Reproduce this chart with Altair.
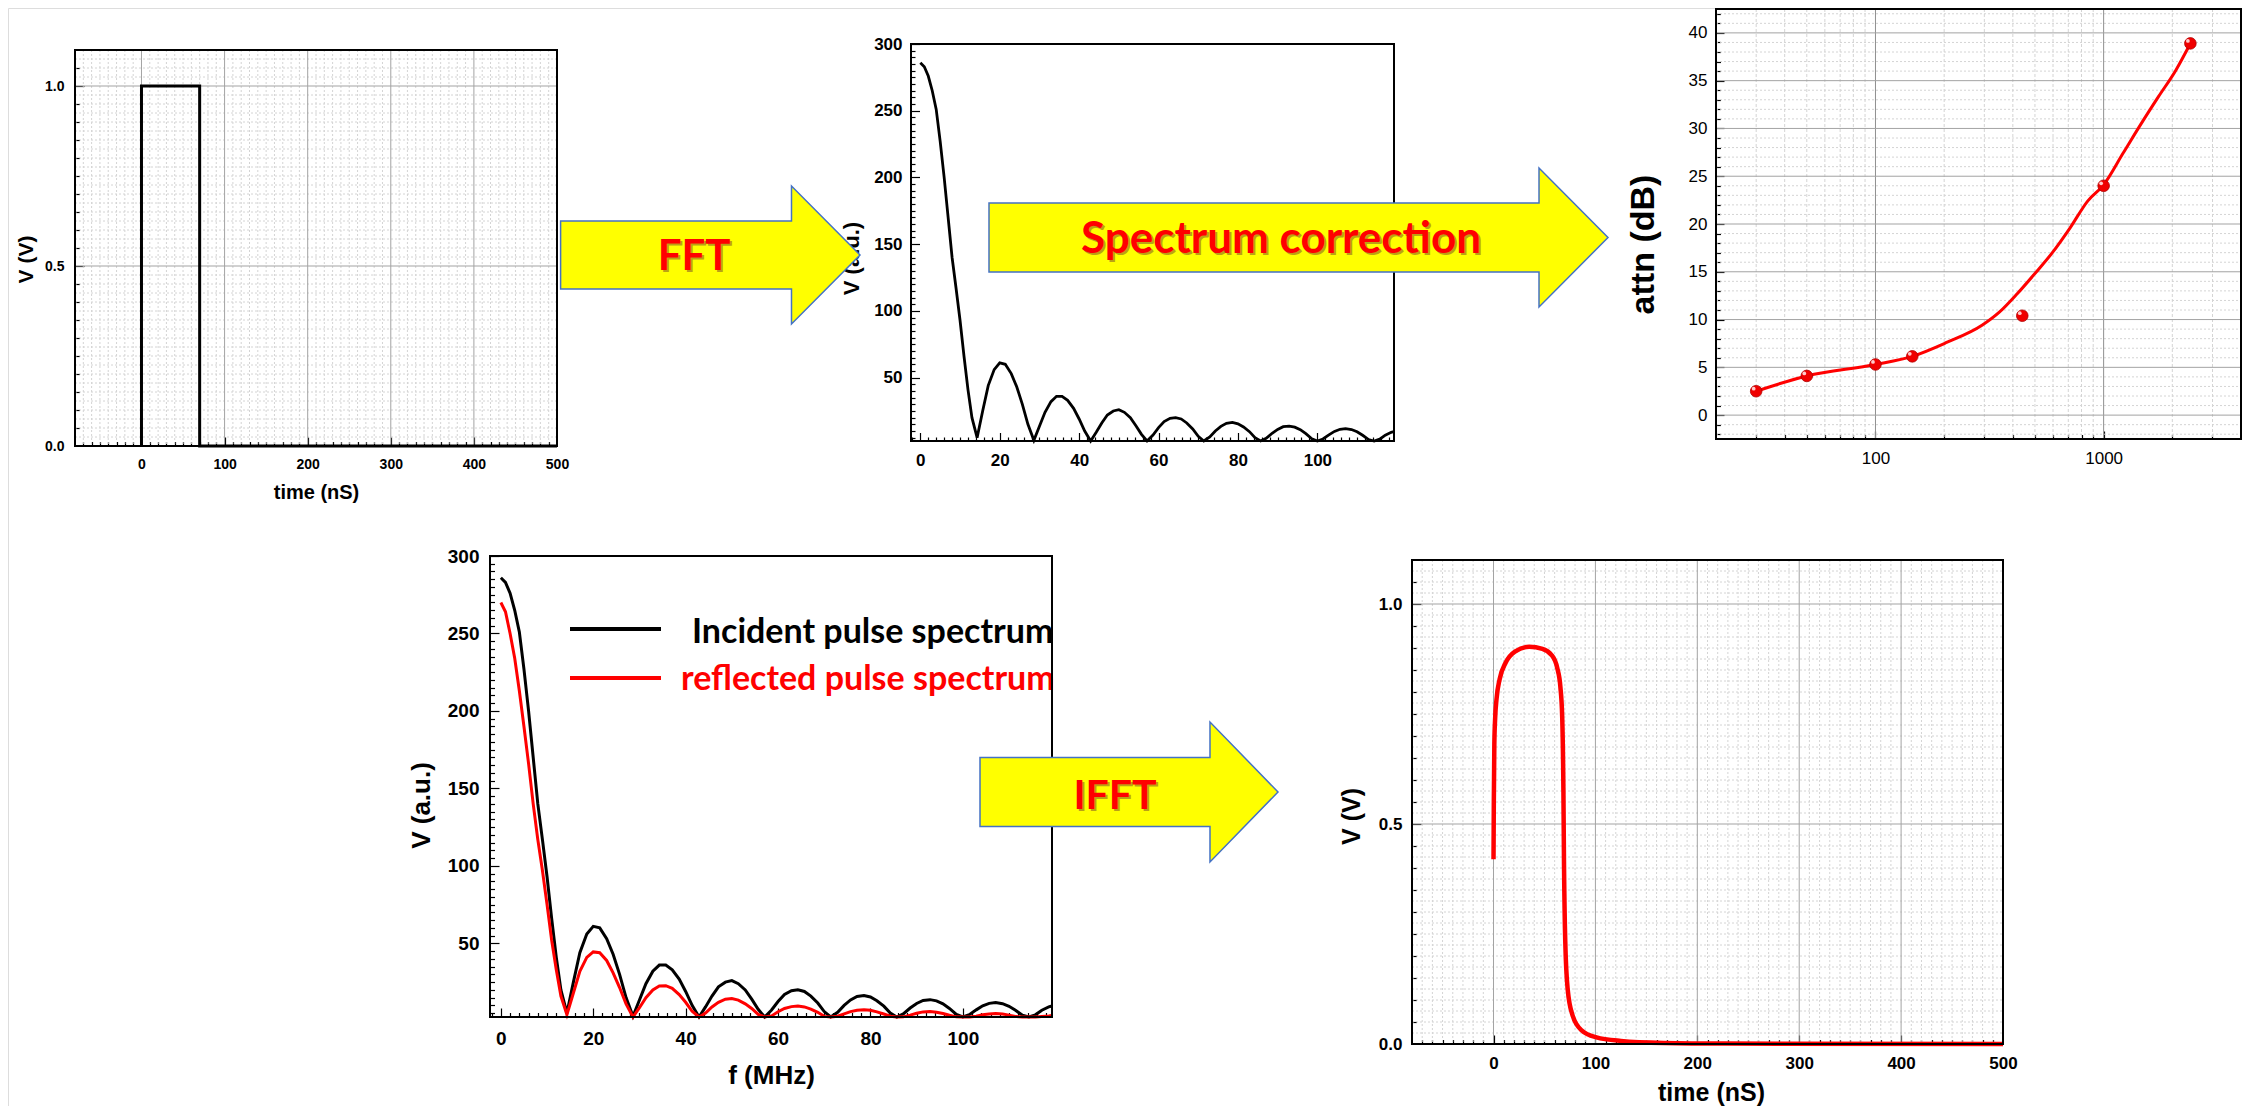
import altair as alt
import pandas as pd

# ---------------- data ----------------
# panel 1: incident rectangular pulse
pulse_time_ns = [0, 0, 70, 70, 500]
pulse_volt = [0.0, 1.0, 1.0, 0.0, 0.0]

# panels 2 and 4: spectra
spec_freq_mhz = [
    0, 1, 2, 3, 4, 5, 6, 7, 8, 9, 10, 11, 12, 13, 14.3,
    15.7, 17.1, 18.6, 20.0, 21.4, 22.9, 24.3, 25.7, 27.1, 28.6,
    30.0, 31.4, 32.9, 34.3, 35.7, 37.1, 38.6, 40.0, 41.4, 42.9,
    44.3, 45.7, 47.1, 48.6, 50.0, 51.4, 52.9, 54.3, 55.7, 57.1,
    58.6, 60.0, 61.4, 62.9, 64.3, 65.7, 67.1, 68.6, 70.0, 71.4,
    72.9, 74.3, 75.7, 77.1, 78.6, 80.0, 81.4, 82.9, 84.3, 85.7,
    87.1, 88.6, 90.0, 91.4, 92.9, 94.3, 95.7, 97.1, 98.6, 100.0,
    101.4, 102.9, 104.3, 105.7, 107.1, 108.6, 110.0, 111.4, 112.9, 114.3,
    115.7, 117.1, 118.6, 119.3,
]
incident_spec = [
    286, 283, 276, 265, 251, 227, 200, 170, 140, 117, 93, 66, 41, 20, 5,
    25, 44, 56, 61, 60, 53, 43, 30, 15, 3,
    13.5, 24, 32, 36, 36, 33, 27, 19, 10, 2.5,
    9, 16, 22, 25, 26, 24, 20, 14, 7.5, 2.5,
    7, 12.5, 17, 19.5, 20, 19, 16, 11.5, 6, 2.5,
    5.5, 10, 13.5, 15.8, 16.4, 15.4, 13, 9.5, 5, 2.5,
    4.5, 8.3, 11.2, 13.2, 13.7, 12.9, 11, 8, 4.2, 2.5,
    4, 7.1, 9.7, 11.3, 11.8, 11.1, 9.4, 6.8, 3.6, 2.5,
    3.9, 6.9, 9.0, 9.6,
]
reflected_spec = [
    270, 264, 250, 234, 213, 190, 166, 140, 117, 97, 75, 52, 33, 16, 4,
    18, 32, 41, 44.5, 44, 39, 31, 21.5, 11, 2.5,
    8.5, 15, 20, 22.5, 22.7, 21, 17, 12, 6.2, 2.5,
    5, 9, 12, 14, 14.4, 13.4, 11, 8, 4.2, 2.5,
    3.2, 5.9, 8, 9.2, 9.6, 9, 7.6, 5.5, 2.9, 2.5,
    3.0, 4.5, 6.0, 6.9, 7.2, 6.8, 5.8, 4.4, 3.0, 2.5,
    2.6, 3.7, 4.9, 5.8, 6.0, 5.6, 4.8, 3.6, 2.6, 2.5,
    2.5, 3.0, 3.9, 4.5, 4.7, 4.4, 3.7, 2.9, 2.5, 2.5,
    2.5, 2.8, 3.2, 3.5,
]

# panel 3: attenuation
attn_freq_mhz = [30, 50, 100, 145, 440, 1000, 2400]
attn_db = [2.5, 4.1, 5.3, 6.15, 10.4, 24.0, 38.9]
attn_fit_freq = [30, 50, 100, 145, 205, 293, 350, 418, 499, 596, 713, 851,
                 1000, 1216, 1452, 1736, 2073, 2400]
attn_fit_db = [2.5, 4.1, 5.3, 6.15, 7.6, 9.4, 10.8, 12.7, 14.8, 17.0, 19.6,
               22.4, 24.1, 27.4, 30.4, 33.3, 36.1, 38.9]

# panel 5: reconstructed (reflected) pulse
rec_time_ns = [0, 0.3, 0.8, 1.6, 3, 6, 12, 21, 35, 48, 57, 62.6, 65.6, 67.4,
               68.6, 69.2, 70.4, 72.8, 77.6, 86.5, 101, 125, 167, 227, 500]
rec_volt = [0.42, 0.55, 0.68, 0.74, 0.785, 0.829, 0.867, 0.892, 0.903, 0.898,
            0.884, 0.854, 0.812, 0.744, 0.574, 0.404, 0.234, 0.124, 0.065,
            0.031, 0.015, 0.007, 0.0025, 0.001, 0.0]

# tick labels
time_ticks = [0, 100, 200, 300, 400, 500]
volt_ticks = [0.0, 0.5, 1.0]
freq_ticks = [0, 20, 40, 60, 80, 100]
spec_ticks = [50, 100, 150, 200, 250, 300]
attn_x_ticks = [100, 1000]
attn_y_ticks = [0, 5, 10, 15, 20, 25, 30, 35, 40]

arrow_labels = ["FFT", "Spectrum correction", "IFFT"]
legend_labels = ["Incident pulse spectrum", "reflected pulse spectrum"]
axis_titles = ["time (nS)", "V (V)", "V (a.u.)", "attn (dB)", "f (MHz)"]

# minor tick / grid positions
time_minor = [t for t in range(-70, 500, 10) if t % 100]
volt_minor = [round(0.05 * i, 3) for i in range(1, 22) if i % 10]
volt_grid_minor = [round(0.025 * i, 3) for i in range(1, 44) if i % 20]
freq_minor = [f for f in range(-2, 120, 2) if f % 20]
spec_minor = [v for v in range(5, 300, 5) if v % 50]
attn_x_minor = [30, 40, 50, 60, 70, 80, 90, 200, 300, 400, 500, 600, 700,
                800, 900, 2000, 3000]
attn_y_minor = [v for v in range(-2, 43) if v % 5]

# ---------------- layout (canvas pixels) ----------------
WT, HT = 2234, 1098
P1 = dict(l=67, r=549, t=42, b=438)
P2 = dict(l=903, r=1386, t=36, b=433)
P3 = dict(l=1708, r=2233, t=1, b=431)
P4 = dict(l=482, r=1044, t=548, b=1009)
P5 = dict(l=1404, r=1995, t=552, b=1036)

FONT = "Liberation Sans"
MAJOR = "#a3a3a3"
MINOR = "#d4d4d4"
one = pd.DataFrame({"k": [0]})


def xscale(dom, p, typ="linear"):
    if typ == "log":
        return alt.Scale(type="log", domain=dom, range=[p["l"], p["r"]], nice=False)
    return alt.Scale(domain=dom, range=[p["l"], p["r"]], nice=False, zero=False)


def yscale(dom, p):
    return alt.Scale(domain=dom, range=[p["b"], p["t"]], nice=False, zero=False)


def tick_axes(p, xvals, yvals, L):
    xa = alt.Axis(orient="bottom", values=xvals, grid=False, labels=False,
                  ticks=True, tickSize=L, tickColor="black", tickWidth=1.2,
                  offset=-(HT - p["b"]) - L, domain=False, title=None)
    ya = alt.Axis(orient="left", values=yvals, grid=False, labels=False,
                  ticks=True, tickSize=L, tickColor="black", tickWidth=1.2,
                  offset=-p["l"] - L, domain=False, title=None)
    return xa, ya


def label_axis(p, orient, values, fmt, size, pad, title, tsize, tx, ty,
               weight="bold"):
    off = -(HT - p["b"]) if orient == "bottom" else -p["l"]
    return alt.Axis(orient=orient, values=values, format=fmt, grid=False,
                    ticks=False, domain=False, offset=off, labelFont=FONT,
                    labelFontSize=size, labelFontWeight=weight,
                    labelColor="black", labelPadding=pad, labelFlush=False,
                    labelOverlap=False, title=title, titleFont=FONT,
                    titleFontSize=tsize, titleFontWeight="bold",
                    titleColor="black", titleX=tx, titleY=ty,
                    titleAngle=(270 if orient == "left" else 0),
                    titleAlign="center", titleBaseline="middle")


def xy(chart, xf, yf, xs, ys, xa=None, ya=None):
    return chart.encode(
        x=alt.X(xf, type="quantitative", scale=xs, axis=xa),
        y=alt.Y(yf, type="quantitative", scale=ys, axis=ya),
    )


def ghost(df, xf, yf, xs, ys, xa, ya):
    return xy(alt.Chart(df).mark_point(opacity=0, size=1), xf, yf, xs, ys, xa, ya)


def vgrid(vals, xs, p, color, dash=None):
    kw = dict(color=color, strokeWidth=1)
    if dash:
        kw["strokeDash"] = dash
    return alt.Chart(pd.DataFrame({"g": vals})).mark_rule(**kw).encode(
        x=alt.X("g:Q", scale=xs, axis=None),
        y=alt.value(p["t"]), y2=alt.value(p["b"]))


def hgrid(vals, ys, p, color, dash=None):
    kw = dict(color=color, strokeWidth=1)
    if dash:
        kw["strokeDash"] = dash
    return alt.Chart(pd.DataFrame({"g": vals})).mark_rule(**kw).encode(
        y=alt.Y("g:Q", scale=ys, axis=None),
        x=alt.value(p["l"]), x2=alt.value(p["r"]))


def frame(p):
    return alt.Chart(one).mark_rect(fillOpacity=0, stroke="black",
                                    strokeWidth=2).encode(
        x=alt.value(p["l"]), x2=alt.value(p["r"]),
        y=alt.value(p["t"]), y2=alt.value(p["b"]))


def arrow(x0, xh, xt, yc, bh, hh):
    cx = (x0 + xt) / 2.0
    s = (xt - x0) / 2.0
    pts = [(x0, yc - bh), (xh, yc - bh), (xh, yc - hh), (xt, yc),
           (xh, yc + hh), (xh, yc + bh), (x0, yc + bh)]
    path = "M" + "L".join(
        "%.4f,%.4f" % ((px - cx) / s, (py - yc) / s) for px, py in pts) + "Z"
    return alt.Chart(one).mark_point(
        shape=path, size=(2 * s) ** 2, filled=True, fill="#FFFF00",
        fillOpacity=1, opacity=1, stroke="#4472C4", strokeWidth=1.5,
    ).encode(x=alt.value(cx), y=alt.value(yc))


def red_label(text, x, y, size=40):
    common = dict(text=text, font="Lato", fontWeight="bold", fontSize=size,
                  align="center", baseline="middle")
    shadow = alt.Chart(one).mark_text(color="#6b3030", opacity=0.45, dx=2,
                                      dy=2, **common).encode(
        x=alt.value(x), y=alt.value(y))
    main = alt.Chart(one).mark_text(color="#FF0000", **common).encode(
        x=alt.value(x), y=alt.value(y))
    return [shadow, main]


# ---------------- data frames and scales ----------------
df1 = pd.DataFrame({"t": pulse_time_ns, "v": pulse_volt,
                    "i": list(range(len(pulse_time_ns)))})
dfs = pd.DataFrame({"f": spec_freq_mhz, "inc": incident_spec,
                    "refl": reflected_spec})
dff = pd.DataFrame({"f": attn_fit_freq, "a": attn_fit_db})
dfp = pd.DataFrame({"f": attn_freq_mhz, "a": attn_db})
df5 = pd.DataFrame({"t": rec_time_ns, "v": rec_volt})

x1, y1 = xscale([-80, 500], P1), yscale([0, 1.1], P1)
x2, y2 = xscale([-2.35, 119.3], P2), yscale([2.5, 300], P2)
x3, y3 = xscale([20, 4000], P3, "log"), yscale([-2.5, 42.5], P3)
x4, y4 = xscale([-2.35, 119.3], P4), yscale([2.5, 300], P4)
x5, y5 = xscale([-80, 500], P5), yscale([0, 1.1], P5)

layers = []

# grids
layers += [
    vgrid(time_minor, x1, P1, MINOR, [2, 2]),
    hgrid(volt_grid_minor, y1, P1, MINOR, [2, 2]),
    vgrid(time_ticks[:-1], x1, P1, MAJOR),
    hgrid(volt_ticks[1:], y1, P1, MAJOR),
    vgrid(attn_x_minor, x3, P3, MINOR, [3, 2]),
    hgrid(attn_y_minor, y3, P3, MINOR, [2, 2]),
    vgrid(attn_x_ticks, x3, P3, "#8f8f8f"),
    hgrid(attn_y_ticks, y3, P3, MAJOR),
    vgrid(time_minor, x5, P5, MINOR, [2, 2]),
    hgrid(volt_grid_minor, y5, P5, MINOR, [2, 2]),
    vgrid(time_ticks[:-1], x5, P5, MAJOR),
    hgrid(volt_ticks[1:], y5, P5, MAJOR),
]

# inward ticks (axes with no labels)
layers += [
    ghost(df1, "t", "v", x1, y1, *tick_axes(P1, time_minor, volt_minor, 4.5)),
    ghost(df1, "t", "v", x1, y1, *tick_axes(P1, time_ticks[:-1], volt_ticks[1:], 9)),
    ghost(dfs, "f", "inc", x2, y2, *tick_axes(P2, freq_minor, spec_minor, 4)),
    ghost(dfs, "f", "inc", x2, y2, *tick_axes(P2, freq_ticks, spec_ticks, 8.5)),
    ghost(dff, "f", "a", x3, y3, *tick_axes(P3, attn_x_minor, attn_y_minor, 4.5)),
    ghost(dff, "f", "a", x3, y3, *tick_axes(P3, attn_x_ticks, attn_y_ticks, 8)),
    ghost(dfs, "f", "inc", x4, y4, *tick_axes(P4, freq_minor, spec_minor, 4.5)),
    ghost(dfs, "f", "inc", x4, y4, *tick_axes(P4, freq_ticks, spec_ticks, 9)),
    ghost(df5, "t", "v", x5, y5, *tick_axes(P5, time_minor, volt_minor, 4.5)),
    ghost(df5, "t", "v", x5, y5, *tick_axes(P5, time_ticks[:-1], volt_ticks[1:], 9)),
]

# data series, carrying the labelled axes
layers += [
    xy(alt.Chart(df1).mark_line(color="black", strokeWidth=3), "t", "v", x1, y1,
       label_axis(P1, "bottom", time_ticks, "d", 14, 11, axis_titles[0], 20, 308, 46),
       label_axis(P1, "left", volt_ticks, ".1f", 14, 11, axis_titles[1], 21, -49, 251)
       ).encode(order=alt.Order("i:Q")),
    xy(alt.Chart(dfs).mark_line(color="black", strokeWidth=2.8), "f", "inc", x2, y2,
       label_axis(P2, "bottom", freq_ticks, "d", 17, 11, None, 17, 0, 0),
       label_axis(P2, "left", spec_ticks, "d", 17, 9, axis_titles[2], 22, -60, 250)),
    xy(alt.Chart(dff).mark_line(color="#FF0000", strokeWidth=3,
                                interpolate="monotone"), "f", "a", x3, y3,
       label_axis(P3, "bottom", attn_x_ticks, "d", 17, 11, None, 17, 0, 0,
                  weight="normal"),
       label_axis(P3, "left", attn_y_ticks, "d", 17, 9, axis_titles[3], 34, -73, 236,
                  weight="normal")),
    xy(alt.Chart(dfp).mark_circle(size=135, color="#F00000", opacity=1,
                                  stroke="#B00000", strokeWidth=0.8),
       "f", "a", x3, y3),
    xy(alt.Chart(dfp).mark_circle(size=14, color="#FFD6D6", opacity=0.95,
                                  xOffset=-2.5, yOffset=-2.5),
       "f", "a", x3, y3),
    xy(alt.Chart(dfs).mark_line(color="black", strokeWidth=3), "f", "inc", x4, y4,
       label_axis(P4, "bottom", freq_ticks, "d", 19, 12, axis_titles[4], 26, 763, 58),
       label_axis(P4, "left", spec_ticks, "d", 19, 11, axis_titles[2], 26, -69, 797)),
    xy(alt.Chart(dfs).mark_line(color="#FF0000", strokeWidth=3), "f", "refl", x4, y4),
    xy(alt.Chart(df5).mark_line(color="#FF0000", strokeWidth=4.5,
                                interpolate="monotone"), "t", "v", x5, y5,
       label_axis(P5, "bottom", time_ticks, "d", 17, 11, axis_titles[0], 25, 1703, 48),
       label_axis(P5, "left", volt_ticks, ".1f", 17, 10, axis_titles[1], 25, -61, 808)),
]

# legend of panel 4
layers += [
    alt.Chart(one).mark_rule(color="black", strokeWidth=4).encode(
        x=alt.value(562), x2=alt.value(653), y=alt.value(621)),
    alt.Chart(one).mark_rule(color="#FF0000", strokeWidth=4).encode(
        x=alt.value(562), x2=alt.value(653), y=alt.value(670)),
    alt.Chart(one).mark_text(text=legend_labels[0], font="Lato",
                             fontWeight="bold", fontSize=34, color="black",
                             align="left", baseline="middle").encode(
        x=alt.value(684), y=alt.value(625)),
    alt.Chart(one).mark_text(text=legend_labels[1], font="Lato",
                             fontWeight="bold", fontSize=34, color="#FF0000",
                             align="left", baseline="middle").encode(
        x=alt.value(673), y=alt.value(672)),
]

# frames
layers += [frame(P1), frame(P2), frame(P3), frame(P4), frame(P5)]

# arrows with their labels
layers += [
    arrow(552.6, 783.5, 852, 247, 34, 69),
    *red_label(arrow_labels[0], 686, 249, 42),
    arrow(981, 1531, 1600, 229.5, 34.5, 69.5),
    *red_label(arrow_labels[1], 1273, 232, 44),
    arrow(972, 1202, 1270, 784, 34.5, 70),
    *red_label(arrow_labels[2], 1107, 789, 41),
]

chart = alt.layer(*layers).resolve_scale(
    x="independent", y="independent").resolve_axis(
    x="independent", y="independent").properties(
    width=WT, height=HT, padding=0).configure_view(
    strokeWidth=0).configure(background="white")

chart.save("out.html", embed_options={"renderer": "svg", "actions": False})
